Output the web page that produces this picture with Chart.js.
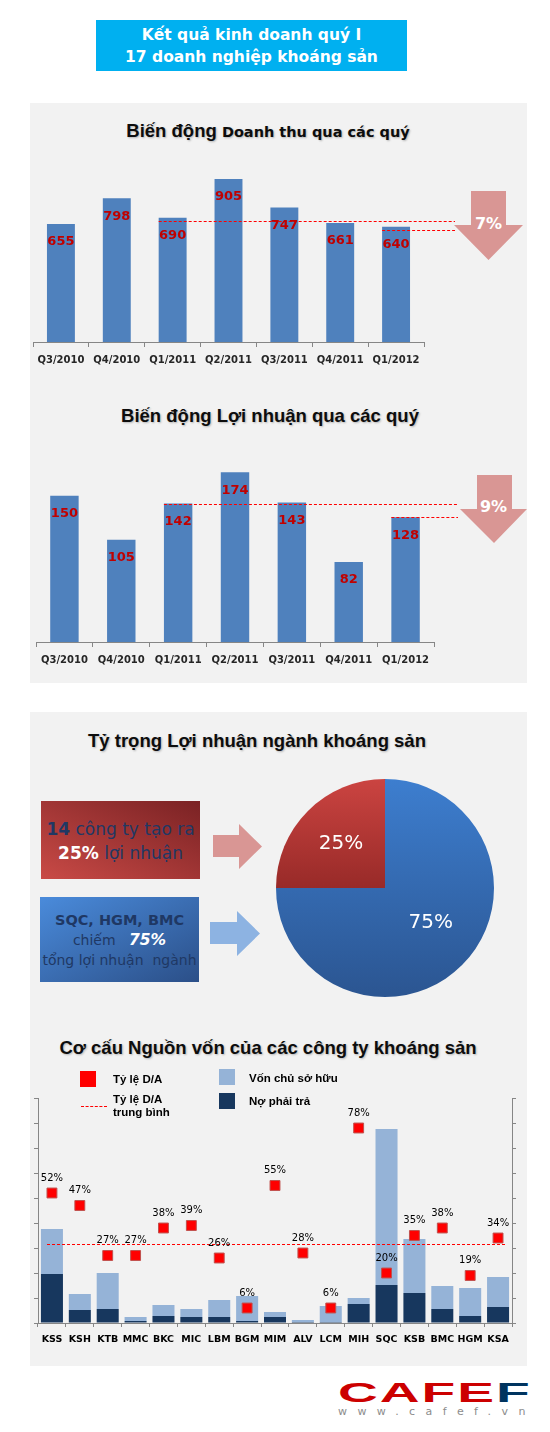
<!DOCTYPE html>
<html>
<head>
<meta charset="utf-8">
<script src="https://cdn.jsdelivr.net/npm/chart.js@4.4.1/dist/chart.umd.min.js"></script>
<style>
body{margin:0;background:#fff;width:550px;height:1432px;position:relative;overflow:hidden;font-family:"DejaVu Sans",sans-serif;}
.panel{position:absolute;background:#F2F2F2;}
canvas{position:absolute;}
#topTitle{position:absolute;left:96px;top:20px;width:311px;height:51px;background:#00B0F0;color:#fff;font:bold 15.5px "DejaVu Sans";text-align:center;line-height:22px;padding-top:4px;box-sizing:border-box;}
.ctitle{position:absolute;font:bold 18.5px "Liberation Sans";color:#0d0d0d;white-space:nowrap;transform:translate(-50%,-50%);text-shadow:1px 1px 2px rgba(0,0,0,.25);}
.ctitle .small{font:bold 14.5px "DejaVu Sans";}
.downArrow{position:absolute;background:#D99694;}
.downArrow span{position:absolute;left:0;width:100%;text-align:center;color:#fff;font:bold 16px "DejaVu Sans";}
.rightArrow{position:absolute;}
.box{position:absolute;text-align:center;color:#1F3864;box-sizing:border-box;white-space:nowrap;}
.legTxt{position:absolute;font:bold 11.5px "Liberation Sans";color:#000;line-height:13px;}
.legSq{position:absolute;width:16px;height:16px;}
</style>
</head>
<body>
<div id="topTitle">Kết quả kinh doanh quý I<br>17 doanh nghiệp khoáng sản</div>

<div class="panel" style="left:30px;top:103px;width:497px;height:580px;"></div>
<div class="panel" style="left:30px;top:712px;width:497px;height:654px;"></div>

<div class="ctitle" style="left:268px;top:131px;">Biến động <span class="small">Doanh thu qua các quý</span></div>
<canvas id="revChart" width="497" height="275" style="left:30px;top:103px;"></canvas>
<div class="downArrow" id="revArrow" style="left:454px;top:191px;width:69px;height:69px;clip-path:polygon(17px 0,52px 0,52px 34px,69px 34px,34.5px 69px,0 34px,17px 34px);"><span style="top:23px;"></span></div>

<div class="ctitle" style="left:270px;top:416px;">Biến động Lợi nhuận qua các quý</div>
<canvas id="profChart" width="497" height="288" style="left:30px;top:390px;"></canvas>
<div class="downArrow" id="profArrow" style="left:460px;top:475px;width:67px;height:68px;clip-path:polygon(17px 0,52px 0,52px 34px,67px 34px,34px 68px,0 34px,17px 34px);"><span style="top:22px;"></span></div>

<div class="ctitle" style="left:257px;top:741px;">Tỷ trọng Lợi nhuận ngành khoáng sản</div>
<div class="box" style="left:41px;top:801px;width:159px;height:78px;background:linear-gradient(to top right,#C94A46,#7A2224);font-size:17px;line-height:24px;padding-top:16px;">
<b>14</b> công ty tạo ra<br><b style="color:#fff">25%</b> lợi nhuận</div>
<div class="box" style="left:40px;top:897px;width:159px;height:85px;background:linear-gradient(to bottom right,#4A8BDB,#2B4F88);font-size:14px;line-height:20px;padding-top:13px;">
<b style="font-size:14.5px">SQC, HGM, BMC</b><br>chiếm&nbsp;&nbsp; <b style="color:#fff;font-style:oblique;font-size:15.5px">75%</b><br>tổng lợi nhuận&nbsp; ngành</div>
<div class="rightArrow" style="left:213px;top:824px;width:49px;height:45px;background:#D99694;clip-path:polygon(0 11px,26px 11px,26px 0,49px 22.5px,26px 45px,26px 33px,0 33px);"></div>
<div class="rightArrow" style="left:210px;top:911px;width:50px;height:45px;background:#8DB3E2;clip-path:polygon(0 11px,27px 11px,27px 0,50px 22.5px,27px 45px,27px 33px,0 33px);"></div>
<canvas id="pieChart" width="218" height="218" style="left:276px;top:779px;"></canvas>

<div class="ctitle" style="left:268px;top:1048px;">Cơ cấu Nguồn vốn của các công ty khoáng sản</div>
<canvas id="capChart" width="497" height="263" style="left:30px;top:1090px;"></canvas>
<div class="legSq" style="left:80px;top:1071px;background:#FF0000;"></div>
<div class="legTxt" style="left:113px;top:1073px;">Tỷ lệ D/A</div>
<div style="position:absolute;left:81px;top:1106px;width:26px;border-top:1px dashed #FF0000;"></div>
<div class="legTxt" style="left:113px;top:1093px;">Tỷ lệ D/A<br>trung bình</div>
<div class="legSq" style="left:219px;top:1069px;background:#95B3D7;"></div>
<div class="legTxt" style="left:249px;top:1072px;">Vốn chủ sở hữu</div>
<div class="legSq" style="left:219px;top:1093px;background:#17375E;"></div>
<div class="legTxt" style="left:249px;top:1095px;">Nợ phải trả</div>

<div style="position:absolute;left:338px;top:1378px;font:bold 28px 'Liberation Sans';transform:scaleX(1.97);transform-origin:left top;letter-spacing:1px;color:#CC0000;line-height:30px;">CAFE<span style="color:#00345F">F</span></div>
<div style="position:absolute;left:338px;top:1405px;font:11px 'DejaVu Sans';color:#8c8c8c;letter-spacing:10.4px;">www.cafef.vn</div>

<script>
// data
const quarters=["Q3/2010","Q4/2010","Q1/2011","Q2/2011","Q3/2011","Q4/2011","Q1/2012"];
const revenue=[655,798,690,905,747,661,640];
const profit=[150,105,142,174,143,82,128];
const revenueDrop="7%";
const profitDrop="9%";

const pieLabels=["SQC, HGM, BMC","14 công ty còn lại"];
const pieShare=[75,25];

const companies=["KSS","KSH","KTB","MMC","BKC","MIC","LBM","BGM","MIM","ALV","LCM","MIH","SQC","KSB","BMC","HGM","KSA"];
const debt=[196,52,56,8,28,24,24,8,24,4,4,76,152,120,56,28,64];
const equity=[180,64,144,16,44,32,68,100,20,8,64,24,624,216,92,112,120];
const daRatio=[52,47,27,27,38,39,26,6,55,28,6,78,20,35,38,19,34];
const daAverage=31.6;

Chart.defaults.font.family="'DejaVu Sans'";
Chart.defaults.animation=false;

document.querySelector("#revArrow span").innerText=revenueDrop;
document.querySelector("#profArrow span").innerText=profitDrop;

// dashed compare lines + red value labels on quarter bars
const compareLine={
    id:'compareLine',
    afterDatasetsDraw(chart,args,opts){
        const ctx=chart.ctx;
        const meta=chart.getDatasetMeta(0);
        const vals=chart.data.datasets[0].data;
        const y=chart.scales.y;
        ctx.save();
        ctx.strokeStyle='#FF0000';ctx.lineWidth=1;ctx.setLineDash([3,2]);
        opts.from.forEach(i=>{
            const bar=meta.data[i];
            const py=Math.round(y.getPixelForValue(vals[i])+opts.shift)+0.5;
            ctx.beginPath();ctx.moveTo(bar.x-bar.width/2,py);ctx.lineTo(opts.endX,py);ctx.stroke();
        });
        ctx.setLineDash([]);
        ctx.font='bold 13px "DejaVu Sans"';ctx.fillStyle='#C00000';
        ctx.textAlign='center';ctx.textBaseline='middle';
        meta.data.forEach((bar,i)=>{ctx.fillText(vals[i],bar.x,bar.y+18);});
        ctx.restore();
    }
};

function quarterChart(id,values,maxY,pad,lineOpts){
    return new Chart(document.getElementById(id),{
        type:'bar',
        data:{labels:quarters,datasets:[{data:values,backgroundColor:'#4F81BD',barPercentage:0.5,categoryPercentage:1}]},
        options:{
            responsive:false,
            layout:{padding:pad},
            plugins:{legend:{display:false},tooltip:{enabled:false},compareLine:lineOpts},
            scales:{
                x:{afterFit:s=>{s.height=36;},
                   grid:{drawOnChartArea:false,tickLength:5,color:'#868686'},
                   border:{color:'#868686'},
                   ticks:{padding:7,color:'#262626',font:{size:10,weight:'bold'}}},
                y:{display:false,min:0,max:maxY}
            }
        },
        plugins:[compareLine]
    });
}

quarterChart('revChart',revenue,1000,{left:3,right:103,top:59,bottom:0},{from:[2,6],endX:425,shift:3});
quarterChart('profChart',profit,200,{left:6,right:93,top:57,bottom:0},{from:[2,6],endX:428,shift:0});

// pie
const pieText={
    id:'pieText',
    afterDatasetsDraw(chart){
        const ctx=chart.ctx;
        ctx.save();
        ctx.font='20px "DejaVu Sans"';ctx.fillStyle='#fff';ctx.textAlign='center';ctx.textBaseline='middle';
        chart.getDatasetMeta(0).data.forEach((arc,i)=>{
            const a=(arc.startAngle+arc.endAngle)/2-(i===0?0.13:0);
            const r=arc.outerRadius*(i===0?0.53:0.57);
            ctx.fillText(pieShare[i]+'%',arc.x+Math.cos(a)*r,arc.y+Math.sin(a)*r);
        });
        ctx.restore();
    }
};
new Chart(document.getElementById('pieChart'),{
    type:'pie',
    data:{labels:pieLabels,datasets:[{data:pieShare,borderWidth:0,
        backgroundColor:c=>{
            const a=c.chart.chartArea;
            if(!a) return c.dataIndex===0?'#3468B0':'#B23835';
            const g=c.chart.ctx.createLinearGradient(0,a.top,0,a.bottom);
            if(c.dataIndex===0){g.addColorStop(0,'#3D7ECF');g.addColorStop(1,'#2B5591');}
            else{g.addColorStop(0,'#CB4441');g.addColorStop(0.5,'#982A28');g.addColorStop(1,'#982A28');}
            return g;
        }}]},
    options:{responsive:false,plugins:{legend:{display:false},tooltip:{enabled:false}}},
    plugins:[pieText]
});

// capital structure
const daMarks={
    id:'daMarks',
    beforeDatasetDraw(chart,args){
        if(args.index!==2) return;
        const ctx=chart.ctx,a=chart.chartArea;
        const py=Math.round(chart.scales.y1.getPixelForValue(daAverage))+0.5;
        ctx.save();
        ctx.strokeStyle='#FF0000';ctx.lineWidth=1;ctx.setLineDash([3,2]);
        ctx.beginPath();ctx.moveTo(a.left+9,py);ctx.lineTo(a.right-5,py);ctx.stroke();
        ctx.restore();
    },
    afterDatasetsDraw(chart){
        const ctx=chart.ctx;
        ctx.save();
        ctx.font='10px "DejaVu Sans"';ctx.fillStyle='#000';ctx.textAlign='center';ctx.textBaseline='middle';
        chart.getDatasetMeta(2).data.forEach((pt,i)=>{ctx.fillText(daRatio[i]+'%',pt.x,pt.y-15);});
        ctx.restore();
    }
};
const axisStyle={ticks:{display:false},grid:{drawOnChartArea:false,tickLength:4,color:'#868686'},border:{color:'#868686'}};
new Chart(document.getElementById('capChart'),{
    type:'bar',
    data:{labels:companies,datasets:[
        {label:'Nợ phải trả',data:debt,backgroundColor:'#17375E',barPercentage:0.79,categoryPercentage:1,order:1},
        {label:'Vốn chủ sở hữu',data:equity,backgroundColor:'#95B3D7',barPercentage:0.79,categoryPercentage:1,order:1},
        {label:'Tỷ lệ D/A',type:'line',data:daRatio,yAxisID:'y1',showLine:false,pointStyle:'rect',pointRadius:7,
         pointBackgroundColor:'#FF0000',pointBorderColor:'#C0504D',pointBorderWidth:1,order:0}
    ]},
    options:{
        responsive:false,
        layout:{padding:{left:0,right:0,top:7,bottom:0}},
        plugins:{legend:{display:false},tooltip:{enabled:false}},
        scales:{
            x:{stacked:true,afterFit:s=>{s.height=30;},
               grid:{drawOnChartArea:false,tickLength:4,color:'#868686'},border:{color:'#868686'},
               ticks:{autoSkip:false,maxRotation:0,padding:7,color:'#000',font:{size:9.5,weight:'bold'}}},
            y:Object.assign({stacked:true,min:0,max:900,afterFit:s=>{s.width=8;}},axisStyle,{ticks:{display:false,stepSize:100}}),
            y1:Object.assign({position:'right',stacked:false,min:0,max:90,afterFit:s=>{s.width=15;}},axisStyle,{ticks:{display:false,stepSize:10}})
        }
    },
    plugins:[daMarks]
});
</script>
</body>
</html>
